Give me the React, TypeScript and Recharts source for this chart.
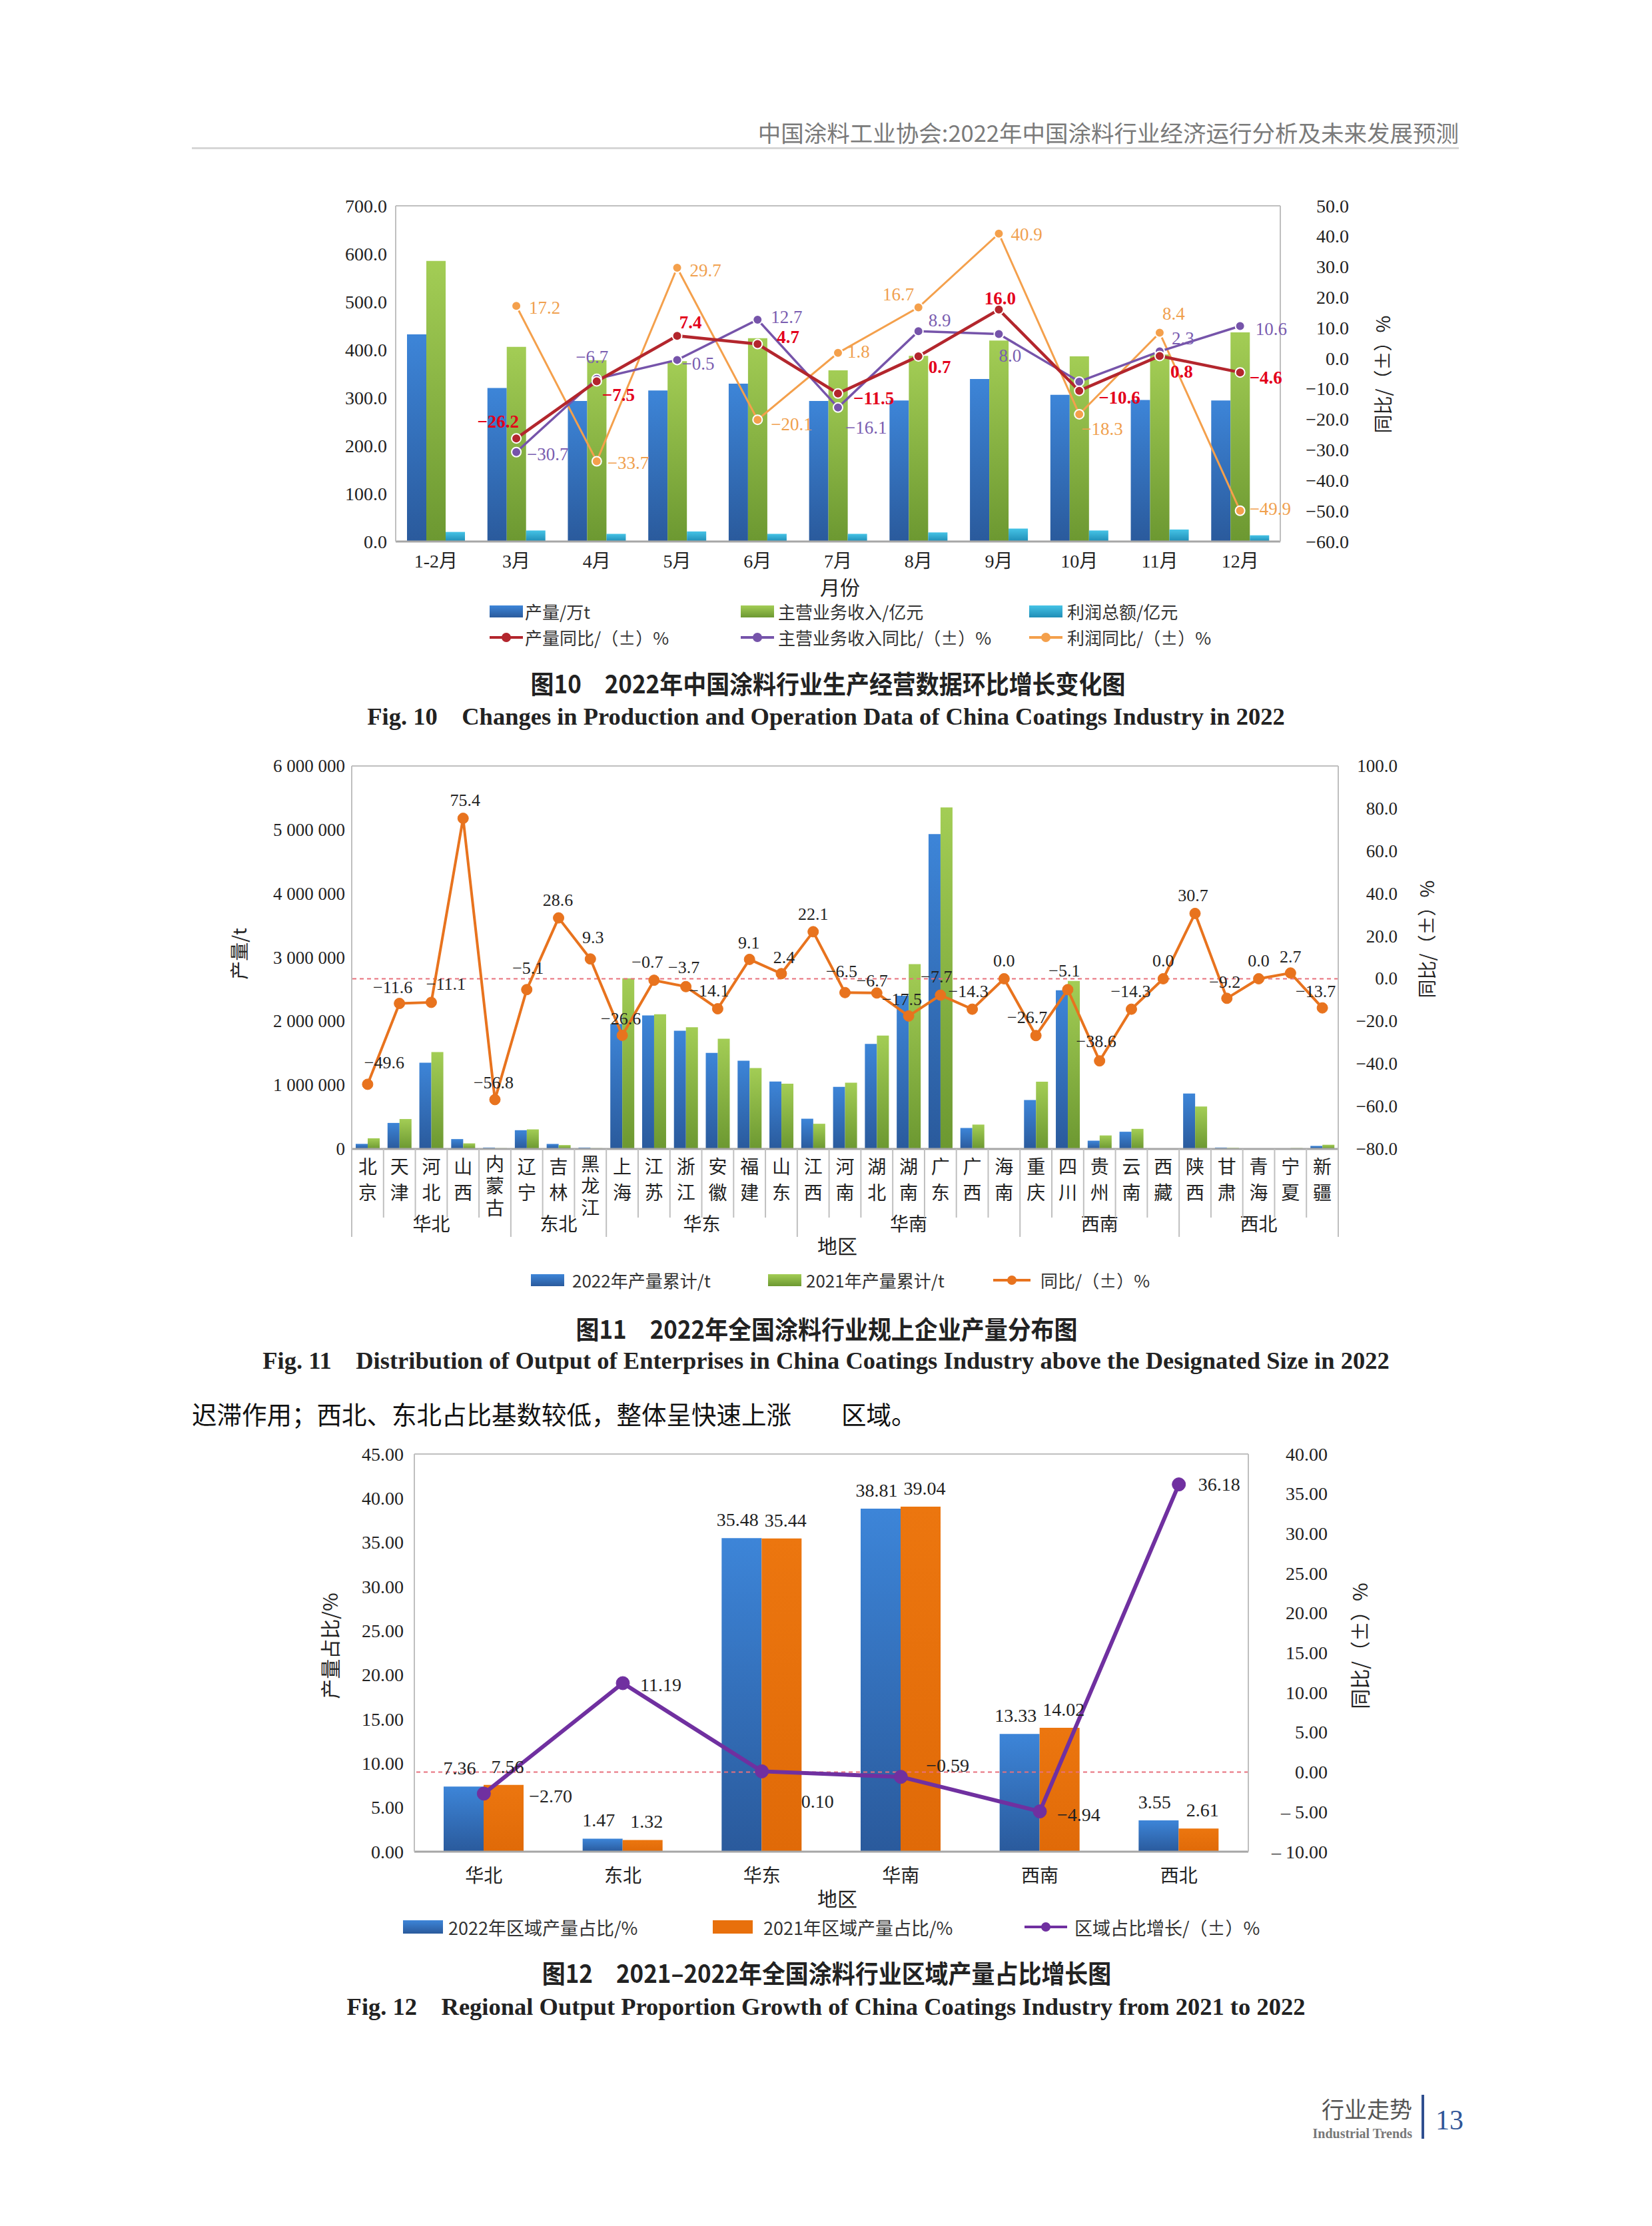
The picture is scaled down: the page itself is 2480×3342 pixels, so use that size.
import React from "react";
import { ComposedChart, Bar, Line, XAxis, YAxis, ReferenceLine, LabelList } from "recharts";

const SERIF = '"Liberation Serif", "Noto Sans CJK SC", serif';
const SANS = '"Noto Sans CJK SC", "Noto Sans", sans-serif';

// ---------- 图10 ----------
const months = ["1-2月", "3月", "4月", "5月", "6月", "7月", "8月", "9月", "10月", "11月", "12月"];
const outputWt = [432, 320, 293, 315, 329, 293, 294, 339, 306, 295, 294];
const revenueYi = [585, 406, 378, 376, 424, 357, 387, 419, 386, 390, 436];
const profitYi = [20, 23, 16, 21, 16, 16, 19, 27, 23, 25, 13];
const outputYoy = [null, -26.2, -7.5, 7.4, 4.7, -11.5, 0.7, 16.0, -10.6, 0.8, -4.6];
const revenueYoy = [null, -30.7, -6.7, -0.5, 12.7, -16.1, 8.9, 8.0, -7.6, 2.3, 10.6];
const profitYoy = [null, 17.2, -33.7, 29.7, -20.1, 1.8, 16.7, 40.9, -18.3, 8.4, -49.9];
const fig10LeftTicks = [0, 100, 200, 300, 400, 500, 600, 700];
const fig10RightTicks = [-60, -50, -40, -30, -20, -10, 0, 10, 20, 30, 40, 50];

// label placement (dx, dy, anchor) per point
const outputYoyPos: any[] = [null, [4, -25, "end"], [8, 21, "start"], [20, -20, "middle"], [29, -11, "start"], [23, 7, "start"], [15, 16, "start"], [2, -17, "middle"], [29, 10, "start"], [16, 24, "start"], [14, 8, "start"]];
const revenueYoyPos: any[] = [null, [16, 3, "start"], [-7, -33, "middle"], [7, 6, "start"], [20, -4, "start"], [11, 30, "start"], [15, -16, "start"], [17, 33, "middle"], null, [18, -20, "start"], [23, 4, "start"]];
const profitYoyPos: any[] = [null, [19, 3, "start"], [16, 3, "start"], [19, 4, "start"], [20, 7, "start"], [14, -2, "start"], [-30, -20, "middle"], [18, 1, "start"], [3, 22, "start"], [21, -29, "middle"], [14, -3, "start"]];

// ---------- 图11 ----------
const provinces = ["北京", "天津", "河北", "山西", "内蒙古", "辽宁", "吉林", "黑龙江", "上海", "江苏", "浙江", "安徽", "福建", "山东", "江西", "河南", "湖北", "湖南", "广东", "广西", "海南", "重庆", "四川", "贵州", "云南", "西藏", "陕西", "甘肃", "青海", "宁夏", "新疆"];
const provinceRegion = ["华北", "华北", "华北", "华北", "华北", "东北", "东北", "东北", "华东", "华东", "华东", "华东", "华东", "华东", "华南", "华南", "华南", "华南", "华南", "华南", "华南", "西南", "西南", "西南", "西南", "西南", "西北", "西北", "西北", "西北", "西北"];
const output2022 = [80000, 408000, 1351000, 155000, 22000, 294000, 79000, 22000, 1960000, 2092000, 1851000, 1504000, 1382000, 1057000, 474000, 974000, 1645000, 2399000, 4934000, 329000, 5000, 768000, 2487000, 130000, 270000, 0, 870000, 22000, 2000, 3000, 48000];
const output2021 = [167000, 469000, 1518000, 88000, 13000, 307000, 61000, 13000, 2675000, 2110000, 1908000, 1728000, 1268000, 1022000, 395000, 1039000, 1776000, 2895000, 5351000, 382000, 5000, 1053000, 2632000, 212000, 315000, 0, 665000, 18000, 2000, 15000, 66000];
const provinceYoy = [-49.6, -11.6, -11.1, 75.4, -56.8, -5.1, 28.6, 9.3, -26.6, -0.7, -3.7, -14.1, 9.1, 2.4, 22.1, -6.5, -6.7, -17.5, -7.7, -14.3, 0.0, -26.7, -5.1, -38.6, -14.3, 0.0, 30.7, -9.2, 0.0, 2.7, -13.7];
const fig11LeftTicks = [0, 1000000, 2000000, 3000000, 4000000, 5000000, 6000000];
const fig11RightTicks = [-80, -60, -40, -20, 0, 20, 40, 60, 80, 100];
const provinceLabelDx = [25, -10, 22, 3, -2, 2, -1, 4, -2, -10, -3, -13, -1, 4, 0, -5, -7, -10, -6, -6, 0, -13, -5, -5, -1, 0, -3, -3, 0, 0, -10];
const provinceLabelDy = [-32, -24, -27, -27, -25, -32, -27, -32, -25, -27, -29, -27, -25, -24, -26, -32, -18, -25, -28, -27, -27, -27, -28, -29, -27, -27, -27, -24, -27, -24, -25];

// ---------- 图12 ----------
const regions = ["华北", "东北", "华东", "华南", "西南", "西北"];
const share2022 = [7.36, 1.47, 35.48, 38.81, 13.33, 3.55];
const share2021 = [7.56, 1.32, 35.44, 39.04, 14.02, 2.61];
const shareGrowth = [-2.7, 11.19, 0.1, -0.59, -4.94, 36.18];
const fig12LeftTicks = [0, 5, 10, 15, 20, 25, 30, 35, 40, 45];
const fig12RightTicks = [-10, -5, 0, 5, 10, 15, 20, 25, 30, 35, 40];
const shareGrowthPos: any[] = [[68, 4], [26, 3], [59, 45], [38, -17], [26, 5], [29, 0]];

const fig10Data = months.map((m, i) => ({ m, output: outputWt[i], revenue: revenueYi[i], profit: profitYi[i], oy: outputYoy[i], ry: revenueYoy[i], py: profitYoy[i] }));
const fig11Data = provinces.map((p, i) => ({ p, a: output2022[i], b: output2021[i], y: provinceYoy[i] }));
const fig12Data = regions.map((r, i) => ({ r, a: share2022[i], b: share2021[i], g: shareGrowth[i] }));

const minus = (s: string) => s.replace("-", "−");
const f1 = (v: number) => minus(v.toFixed(1));
const f2 = (v: number) => minus(v.toFixed(2));
const spaced = (v: number) => String(v).replace(/\B(?=(\d{3})+(?!\d))/g, " ");

const BORDER = "#bfbfbf";

const yTick = (xPos: number, fmt: (v: number) => string, size = 28) => (p: any) => (
  <text x={xPos} y={p.y} textAnchor="end" dominantBaseline="central" fontFamily={SERIF} fontSize={size} fill="#222">
    {fmt(p.payload.value)}
  </text>
);
const xTick = (yPos: number, size = 28, family = SERIF) => (p: any) => (
  <text x={p.x} y={yPos} textAnchor="middle" dominantBaseline="central" fontFamily={family} fontSize={size} fill="#222">
    {p.payload.value}
  </text>
);

const offsetLabel = (pos: any[], color: string, weight = 400) => (p: any) => {
  const s = pos[p.index];
  if (!s || p.value == null) return null;
  return (
    <text x={p.x + s[0]} y={p.y + s[1]} textAnchor={s[2] || "start"} dominantBaseline="central" fill={color} fontSize={27} fontWeight={weight} fontFamily={SERIF}>
      {f1(p.value)}
    </text>
  );
};

const barTopLabel = (dx: number) => (p: any) => (
  <text x={p.x + p.width / 2 + dx} y={p.y - 18} textAnchor="middle" fontSize={28} fontFamily={SERIF} fill="#222">
    {Number(p.value).toFixed(2)}
  </text>
);

// fig 11 category axis
const P2 = { left: 198, right: 1679, axisY: 605 };
const band2 = (P2.right - P2.left) / provinces.length;
function provinceTick(p: any) {
  const i = provinces.indexOf(p.payload.value);
  const cx = p.x;
  const left = cx - band2 / 2;
  const three = provinces[i].length > 2;
  const reg = provinceRegion[i];
  const groupStart = i === 0 || provinceRegion[i - 1] !== reg;
  const n = provinceRegion.filter((r) => r === reg).length;
  const last = i === provinces.length - 1;
  return (
    <g>
      <line x1={left} x2={left} y1={P2.axisY} y2={P2.axisY + (groupStart ? 132 : 103)} stroke={BORDER} strokeWidth={2} />
      {last && <line x1={left + band2} x2={left + band2} y1={P2.axisY} y2={P2.axisY + 132} stroke={BORDER} strokeWidth={2} />}
      <text
        x={cx}
        y={P2.axisY + (three ? 8 : 12)}
        textAnchor="start"
        fontSize={28}
        fontFamily={SANS}
        fill="#222"
        style={{ writingMode: "vertical-rl", letterSpacing: three ? 5 : 11 }}
      >
        {provinces[i]}
      </text>
      {groupStart && (
        <text x={left + (n * band2) / 2} y={P2.axisY + 111} textAnchor="middle" dominantBaseline="central" fontSize={28} fontFamily={SANS} fill="#222">
          {reg}
        </text>
      )}
    </g>
  );
}

function Txt({ x, y, children, size = 28, anchor = "middle", color = "#222", weight = 400, family = SANS, rotate = 0, spacing = 0, sx = 1 }: any) {
  const tx = anchor === "middle" ? "-50%" : anchor === "end" ? "-100%" : "0";
  const origin = anchor === "middle" ? "center" : anchor === "end" ? "right" : "left";
  return (
    <div
      style={{
        position: "absolute",
        left: x,
        top: y,
        transform: `translate(${tx}, -50%) rotate(${rotate}deg) scaleX(${sx})`,
        transformOrigin: `${origin} center`,
        fontSize: size,
        color,
        fontWeight: weight,
        fontFamily: family,
        whiteSpace: "nowrap",
        lineHeight: 1,
        letterSpacing: spacing,
      }}
    >
      {children}
    </div>
  );
}

function LegendKey({ x, y, w = 50, h = 18, kind, color, color2, text, textX, size = 26 }: any) {
  return (
    <>
      {kind === "bar" ? (
        <div style={{ position: "absolute", left: x, top: y - h / 2, width: w, height: h, background: `linear-gradient(to bottom, ${color}, ${color2 || color})` }} />
      ) : (
        <>
          <div style={{ position: "absolute", left: x, top: y - 2, width: w, height: 4, background: color }} />
          <div style={{ position: "absolute", left: x + w / 2 - 7, top: y - 7, width: 14, height: 14, borderRadius: 7, background: color }} />
        </>
      )}
      <Txt x={textX} y={y} size={size} anchor="start" color="#333">
        {text}
      </Txt>
    </>
  );
}

function Grad({ id, top, bottom }: any) {
  return (
    <linearGradient id={id} x1="0" y1="0" x2="0" y2="1">
      <stop offset="0%" stopColor={top} />
      <stop offset="100%" stopColor={bottom} />
    </linearGradient>
  );
}

const BLUE = ["#3d85d8", "#2a5a9c"];
const GREEN = ["#a3cd55", "#6c9831"];
const TEAL = ["#45c3e6", "#1f8db6"];

export default function App() {
  return (
    <div style={{ position: "absolute", left: 0, top: 0, width: 2480, height: 3342, background: "#fff", overflow: "hidden" }}>
      {/* header */}
      <Txt x={2190} y={198} size={34.5} anchor="end" color="#7a7a7a">
        中国涂料工业协会:2022年中国涂料行业经济运行分析及未来发展预测
      </Txt>
      <div style={{ position: "absolute", left: 288, top: 221, width: 1902, height: 3, background: "#d6d6d6" }} />

      {/* ---------------- 图10 ---------------- */}
      <div style={{ position: "absolute", left: 400, top: 280 }}>
        <ComposedChart width={1800} height={600} data={fig10Data} margin={{ top: 29, right: 158, bottom: 17, left: 0 }} barGap={0}>
          <defs>
            <Grad id="g10b" top={BLUE[0]} bottom={BLUE[1]} />
            <Grad id="g10g" top={GREEN[0]} bottom={GREEN[1]} />
            <Grad id="g10t" top={TEAL[0]} bottom={TEAL[1]} />
          </defs>
          <XAxis dataKey="m" height={50} interval={0} tickLine={false} axisLine={{ stroke: "#a6a6a6", strokeWidth: 3 }} tick={xTick(562)} />
          <YAxis yAxisId="left" type="number" domain={[0, 700]} ticks={fig10LeftTicks} width={194} tickLine={false} axisLine={{ stroke: BORDER, strokeWidth: 2 }} tick={yTick(181, f1)} />
          <YAxis yAxisId="right" orientation="right" type="number" domain={[-60, 50]} ticks={fig10RightTicks} width={120} tickLine={false} axisLine={{ stroke: BORDER, strokeWidth: 2 }} tick={yTick(1625, f1)} />
          <ReferenceLine yAxisId="left" y={700} stroke={BORDER} strokeWidth={2} />
          <Bar yAxisId="left" dataKey="output" barSize={29} fill="url(#g10b)" isAnimationActive={false} />
          <Bar yAxisId="left" dataKey="revenue" barSize={29} fill="url(#g10g)" isAnimationActive={false} />
          <Bar yAxisId="left" dataKey="profit" barSize={29} fill="url(#g10t)" isAnimationActive={false} />
          <Line yAxisId="right" dataKey="py" stroke="#f4a04c" strokeWidth={3} dot={{ r: 7, fill: "#f4a04c", stroke: "#fff", strokeWidth: 2 }} isAnimationActive={false}>
            <LabelList dataKey="py" content={offsetLabel(profitYoyPos, "#f0a04e")} />
          </Line>
          <Line yAxisId="right" dataKey="ry" stroke="#7654aa" strokeWidth={3.5} dot={{ r: 7, fill: "#7654aa", stroke: "#fff", strokeWidth: 2 }} isAnimationActive={false}>
            <LabelList dataKey="ry" content={offsetLabel(revenueYoyPos, "#7a5db0")} />
          </Line>
          <Line yAxisId="right" dataKey="oy" stroke="#b3262d" strokeWidth={4.5} dot={{ r: 7, fill: "#b3262d", stroke: "#fff", strokeWidth: 2 }} isAnimationActive={false}>
            <LabelList dataKey="oy" content={offsetLabel(outputYoyPos, "#e3001b", 700)} />
          </Line>
        </ComposedChart>
      </div>
      <Txt x={2075} y={562} size={28} rotate={-90}>同比/（±）%</Txt>
      <Txt x={1261} y={880} size={30}>月份</Txt>
      <LegendKey x={735} y={918} kind="bar" color={BLUE[0]} color2={BLUE[1]} textX={788} text="产量/万t" />
      <LegendKey x={1112} y={918} kind="bar" color={GREEN[0]} color2={GREEN[1]} textX={1168} text="主营业务收入/亿元" />
      <LegendKey x={1545} y={918} kind="bar" color={TEAL[0]} color2={TEAL[1]} textX={1602} text="利润总额/亿元" />
      <LegendKey x={735} y={957} kind="line" color="#b3262d" textX={788} text="产量同比/（±）%" />
      <LegendKey x={1112} y={957} kind="line" color="#7654aa" textX={1168} text="主营业务收入同比/（±）%" />
      <LegendKey x={1545} y={957} kind="line" color="#f4a04c" textX={1602} text="利润同比/（±）%" />
      <Txt x={1243} y={1025} size={38} weight={700} sx={0.92}>图10　2022年中国涂料行业生产经营数据环比增长变化图</Txt>
      <Txt x={1240} y={1076} size={36.5} weight={700} family={SERIF}>Fig. 10　Changes in Production and Operation Data of China Coatings Industry in 2022</Txt>

      {/* ---------------- 图11 ---------------- */}
      <div style={{ position: "absolute", left: 330, top: 1120 }}>
        <ComposedChart width={1900} height={760} data={fig11Data} margin={{ top: 30, right: 81, bottom: 0, left: 0 }} barGap={0}>
          <defs>
            <Grad id="g11b" top={BLUE[0]} bottom={BLUE[1]} />
            <Grad id="g11g" top={GREEN[0]} bottom={GREEN[1]} />
          </defs>
          <XAxis dataKey="p" height={155} interval={0} tickLine={false} axisLine={{ stroke: "#a6a6a6", strokeWidth: 3 }} tick={provinceTick} />
          <YAxis yAxisId="left" type="number" domain={[0, 6000000]} ticks={fig11LeftTicks} width={198} tickLine={false} axisLine={{ stroke: BORDER, strokeWidth: 2 }} tick={yTick(188, spaced, 27)} />
          <YAxis yAxisId="right" orientation="right" type="number" domain={[-80, 100]} ticks={fig11RightTicks} width={140} tickLine={false} axisLine={{ stroke: BORDER, strokeWidth: 2 }} tick={yTick(1768, f1, 27)} />
          <ReferenceLine yAxisId="left" y={6000000} stroke={BORDER} strokeWidth={2} />
          <Bar yAxisId="left" dataKey="a" barSize={18} fill="url(#g11b)" isAnimationActive={false} />
          <Bar yAxisId="left" dataKey="b" barSize={18} fill="url(#g11g)" isAnimationActive={false} />
          <ReferenceLine yAxisId="right" y={0} stroke="#e8707c" strokeWidth={2} strokeDasharray="6 5" />
          <Line yAxisId="right" dataKey="y" stroke="#e8731e" strokeWidth={4} dot={{ r: 8, fill: "#e8731e", stroke: "#e8731e", strokeWidth: 1 }} isAnimationActive={false}>
            <LabelList
              dataKey="y"
              content={(p: any) => (
                <text x={p.x + provinceLabelDx[p.index]} y={p.y + provinceLabelDy[p.index]} textAnchor="middle" dominantBaseline="central" fontSize={26} fontFamily={SERIF} fill="#222">
                  {f1(p.value)}
                </text>
              )}
            />
          </Line>
        </ComposedChart>
      </div>
      <Txt x={358} y={1432} size={28} rotate={-90}>产量/t</Txt>
      <Txt x={2141} y={1410} size={28} rotate={-90}>同比/（±）%</Txt>
      <Txt x={1257} y={1869} size={30}>地区</Txt>
      <LegendKey x={797} y={1922} kind="bar" color={BLUE[0]} color2={BLUE[1]} textX={859} text="2022年产量累计/t" />
      <LegendKey x={1153} y={1922} kind="bar" color={GREEN[0]} color2={GREEN[1]} textX={1210} text="2021年产量累计/t" />
      <LegendKey x={1491} y={1922} w={56} kind="line" color="#e8731e" textX={1562} text="同比/（±）%" />
      <Txt x={1241} y={1994} size={38} weight={700} sx={0.92}>图11　2022年全国涂料行业规上企业产量分布图</Txt>
      <Txt x={1240} y={2043} size={36.5} weight={700} family={SERIF}>Fig. 11　Distribution of Output of Enterprises in China Coatings Industry above the Designated Size in 2022</Txt>

      {/* body text */}
      <Txt x={288} y={2122} size={37.5} anchor="start" color="#111">迟滞作用；西北、东北占比基数较低，整体呈快速上涨　　区域。</Txt>

      {/* ---------------- 图12 ---------------- */}
      <div style={{ position: "absolute", left: 400, top: 2150 }}>
        <ComposedChart width={1700} height={700} data={fig12Data} margin={{ top: 33, right: 96, bottom: 10, left: 0 }} barGap={0}>
          <defs>
            <Grad id="g12b" top={BLUE[0]} bottom={BLUE[1]} />
            <Grad id="g12o" top="#ec760f" bottom="#e06a08" />
          </defs>
          <XAxis dataKey="r" height={60} interval={0} tickLine={false} axisLine={{ stroke: "#a6a6a6", strokeWidth: 3 }} tick={xTick(664, 28, SANS)} />
          <YAxis yAxisId="left" type="number" domain={[0, 45]} ticks={fig12LeftTicks} width={222} tickLine={false} axisLine={{ stroke: BORDER, strokeWidth: 2 }} tick={yTick(206, f2)} />
          <YAxis yAxisId="right" orientation="right" type="number" domain={[-10, 40]} ticks={fig12RightTicks} width={130} tickLine={false} axisLine={{ stroke: BORDER, strokeWidth: 2 }} tick={yTick(1593, (v) => (v < 0 ? "– " + Math.abs(v).toFixed(2) : v.toFixed(2)))} />
          <ReferenceLine yAxisId="left" y={45} stroke={BORDER} strokeWidth={2} />
          <Bar yAxisId="left" dataKey="a" barSize={60} fill="url(#g12b)" isAnimationActive={false}>
            <LabelList dataKey="a" content={barTopLabel(-6)} />
          </Bar>
          <Bar yAxisId="left" dataKey="b" barSize={60} fill="url(#g12o)" isAnimationActive={false}>
            <LabelList dataKey="b" content={barTopLabel(6)} />
          </Bar>
          <ReferenceLine yAxisId="right" y={0} stroke="#e8707c" strokeWidth={2} strokeDasharray="6 5" />
          <Line yAxisId="right" dataKey="g" stroke="#7030a0" strokeWidth={6} dot={{ r: 10, fill: "#7030a0", stroke: "#7030a0", strokeWidth: 1 }} isAnimationActive={false}>
            <LabelList
              dataKey="g"
              content={(p: any) => (
                <text x={p.x + shareGrowthPos[p.index][0]} y={p.y + shareGrowthPos[p.index][1]} textAnchor="start" dominantBaseline="central" fontSize={28} fontFamily={SERIF} fill="#222">
                  {f2(p.value)}
                </text>
              )}
            />
          </Line>
        </ComposedChart>
      </div>
      <Txt x={494} y={2471} size={30} rotate={-90}>产量占比/%</Txt>
      <Txt x={2040} y={2471} size={30} rotate={-90}>同比/（±）%</Txt>
      <Txt x={1257} y={2849} size={30}>地区</Txt>
      <LegendKey x={605} y={2893} w={60} h={20} kind="bar" color={BLUE[0]} color2={BLUE[1]} textX={673} text="2022年区域产量占比/%" size={27} />
      <LegendKey x={1070} y={2893} w={60} h={20} kind="bar" color="#e8700c" textX={1146} text="2021年区域产量占比/%" size={27} />
      <LegendKey x={1538} y={2893} w={64} kind="line" color="#7030a0" textX={1613} text="区域占比增长/（±）%" size={27} />
      <Txt x={1241} y={2961} size={38} weight={700} sx={0.92}>图12　2021–2022年全国涂料行业区域产量占比增长图</Txt>
      <Txt x={1240} y={3013} size={36.5} weight={700} family={SERIF}>Fig. 12　Regional Output Proportion Growth of China Coatings Industry from 2021 to 2022</Txt>

      {/* footer */}
      <Txt x={2120} y={3166} size={34} anchor="end" color="#555">行业走势</Txt>
      <Txt x={2120} y={3203} size={20} anchor="end" color="#777" weight={700} family={SERIF}>Industrial Trends</Txt>
      <div style={{ position: "absolute", left: 2134, top: 3145, width: 4, height: 66, background: "#2f4f8f" }} />
      <Txt x={2155} y={3183} size={42} anchor="start" color="#2f5597" family={SERIF}>13</Txt>
    </div>
  );
}
